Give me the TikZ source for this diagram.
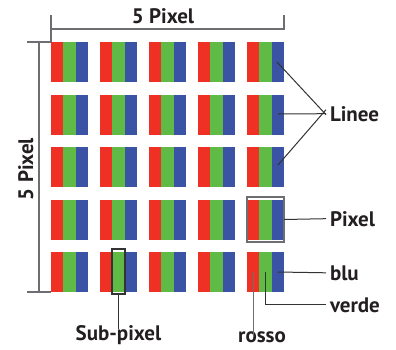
\documentclass[tikz,border=0pt]{standalone}
\usepackage{fontspec}
\setmainfont{PT Sans}
\definecolor{pxred}{HTML}{EE3124}
\definecolor{pxgreen}{HTML}{5FBA46}
\definecolor{pxblue}{HTML}{3A53A4}
\definecolor{txt}{HTML}{231F20}
\definecolor{dimc}{HTML}{6D6E71}
\definecolor{leadc}{HTML}{333333}
\begin{document}
\begin{tikzpicture}[x=1pt,y=-1pt,
  lbl/.style={inner sep=0pt, outer sep=0pt, text=txt, font=\fontsize{21}{25}\selectfont\bfseries},
  dimline/.style={draw=dimc, line width=1.3pt},
  lead/.style={draw=leadc, line width=1pt},
  frame/.style={draw=#1, line width=1.4pt, inner sep=0pt, outer sep=0pt, fill=none}
]
\useasboundingbox (0,0) rectangle (396,349);
% pixels
\foreach \cx [count=\i] in {51,100,149,198,247}{
  \foreach \ry [count=\j] in {42,94.5,147,199.5,252}{
    \fill[pxred]   (\cx,\ry) rectangle ++(12.3,40);
    \fill[pxgreen] (\cx+12.3,\ry) rectangle ++(12.3,40);
    \fill[pxblue]  (\cx+24.6,\ry) rectangle ++(12.4,40);
  }
}
% top dimension
\node[lbl, anchor=base] (toplbl) at (163,23) {5 Pixel};
\coordinate (tl) at (51,15);
\coordinate (tr) at (284,15);
\draw[dimline] (tl) -- (51,42);
\draw[dimline] (tr) -- (284,29.5);
\draw[dimline] (51,29) -- (284,29);
% left dimension
\node[lbl, rotate=90, anchor=base] (leftlbl) at (33,169) {5 Pixel};
\draw[dimline] (27,42) -- (51,42);
\draw[dimline] (27,292) -- (51,292);
\draw[dimline] (39,42) -- (39,292);
% right labels
\node[lbl, anchor=base west] (linee) at (330,121) {Linee};
\node[lbl, anchor=base west] (pixel) at (330,226) {Pixel};
\node[lbl, anchor=base west] (blu) at (330,280) {blu};
\node[lbl, anchor=base west] (verde) at (330,312) {verde};
\node[lbl, anchor=base] (rosso) at (262,342) {rosso};
\node[lbl, anchor=base] (sublbl) at (118.5,340) {Sub-pixel};
% Linee leaders
\coordinate (l1) at (277,62);
\coordinate (l2) at (278,114);
\coordinate (l3) at (278,165);
\draw[lead] (l1) -- ([xshift=-4pt,yshift=-1pt]linee.west);
\draw[lead] (l2) -- ([xshift=-4pt]linee.west);
\draw[lead] (l3) -- ([xshift=-4pt,yshift=4pt]linee.west);
% Pixel frame
\node[frame=dimc, minimum width=37pt, minimum height=45pt] (pxframe) at (265.5,219.5) {};
\draw[lead] (pxframe.east) -- ([xshift=-4pt]pixel.west);
% blu, verde, rosso
\coordinate (bsub) at (278,272);
\coordinate (gsub) at (265.5,272);
\coordinate (rsub) at (253,272);
\draw[lead] (bsub) -- ([xshift=-4pt]blu.west);
\draw[lead] (gsub) |- ([xshift=-4pt]verde.west);
\draw[dimline, line width=1pt] (rsub) -- ([yshift=-6pt]rsub |- rosso.north);
% Sub-pixel frame
\node[frame=leadc, minimum width=12.7pt, minimum height=45pt] (subframe) at (118.5,271.5) {};
\draw[lead] (subframe.south) -- ([yshift=-4pt]sublbl.north);
\end{tikzpicture}
\end{document}
